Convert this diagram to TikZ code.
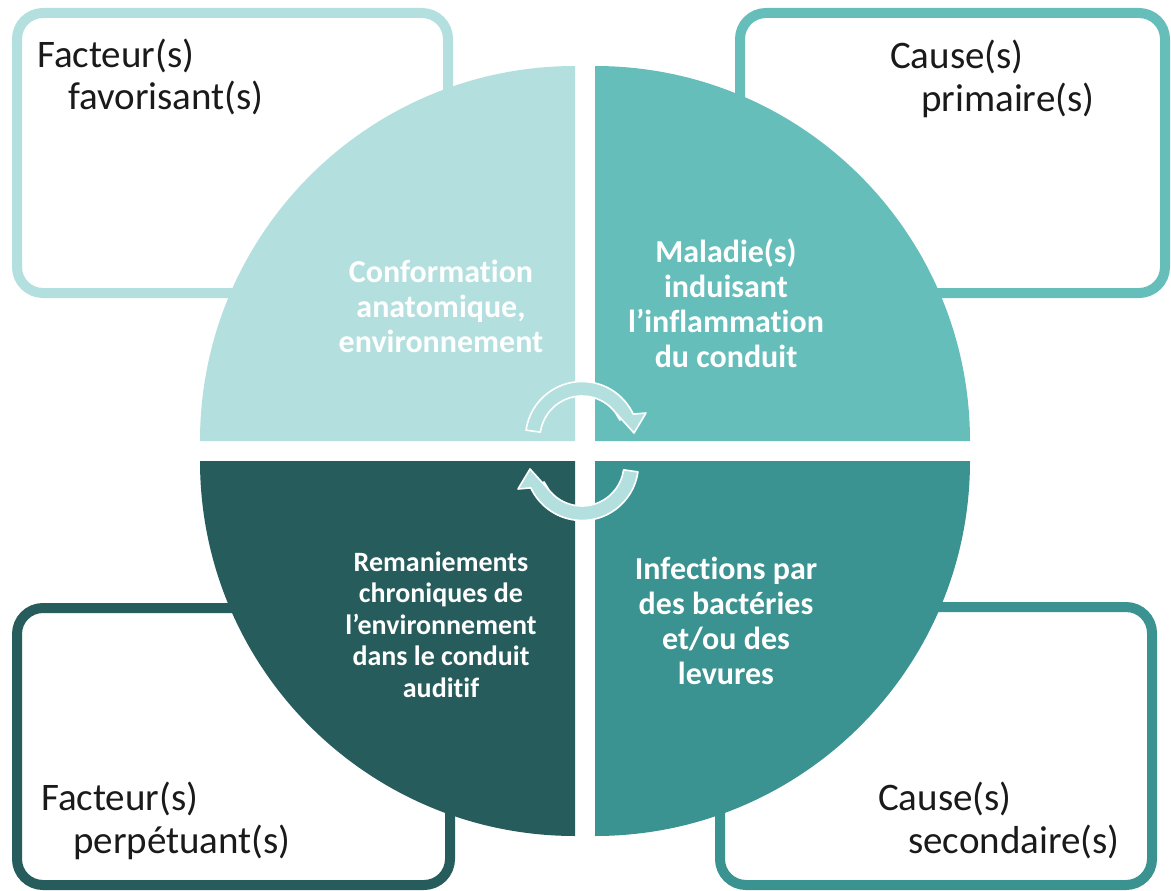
\documentclass[tikz,border=0pt]{standalone}
\usepackage{fontspec}
\setmainfont[Ligatures=NoCommon]{Carlito}
\usetikzlibrary{calc}
\definecolor{cA}{HTML}{B3E0DE}
\definecolor{cB}{HTML}{66BEBB}
\definecolor{cC}{HTML}{3A9390}
\definecolor{cD}{HTML}{265C5B}
\definecolor{ink}{HTML}{1A1A1A}
\begin{document}
\begin{tikzpicture}[x=1pt,y=-1pt,
  box/.style={rectangle, line width=10pt, rounded corners=26pt, fill=white, inner sep=0pt},
  lbl/.style={font=\fontsize{39}{43}\selectfont, text=ink, align=left, inner sep=0pt, anchor=base west},
  inn/.style={font=\bfseries\fontsize{32}{35}\selectfont, text=white, align=center, inner sep=0pt, anchor=base},
  innsmall/.style={inn, font=\bfseries\fontsize{28}{31.5}\selectfont},
  cyc/.style={fill=cA, draw=white, line width=1.6pt, line join=round},
  cycarrow/.pic={
    \path[cyc] ($(582,438)+(188:56.5)$) arc[start angle=188,end angle=335,radius=56.5]
      -- (646,413) -- (634,433) -- (615,412)
      -- ($(582,438)+(335:42)$) arc[start angle=335,end angle=188,radius=42] -- cycle;
  }]
\useasboundingbox[fill=white] (0,0) rectangle (1171,891);

% corner boxes
\node[box, draw=cA, minimum width=431pt, minimum height=280pt] (boxTL) at (232.5,153) {};
\node[box, draw=cB, minimum width=425pt, minimum height=280pt] (boxTR) at (952.5,153) {};
\node[box, draw=cD, minimum width=433pt, minimum height=277pt] (boxBL) at (233.5,746.5) {};
\node[box, draw=cC, minimum width=432pt, minimum height=278pt] (boxBR) at (936,746) {};

% quadrants
\fill[cA] (575,441) -- (200,441) arc[start angle=180,end angle=270,radius=375] -- cycle;
\fill[cB] (595,441) -- (595,66) arc[start angle=270,end angle=360,radius=375] -- cycle;
\fill[cC] (595,461) -- (970,461) arc[start angle=0,end angle=90,radius=375] -- cycle;
\fill[cD] (575,461) -- (575,836) arc[start angle=90,end angle=180,radius=375] -- cycle;

% cycle arrows
\pic (arrTop) at (0,0) {cycarrow};
\pic[rotate=180] (arrBot) at (1164,902) {cycarrow};

% box labels (anchor = baseline of last line)
\node[lbl] (tTL) at (37,110) {Facteur(s)\\\hspace*{31pt}favorisant(s)};
\node[lbl] (tTR) at (890,111) {Cause(s)\\\hspace*{31pt}primaire(s)};
\node[lbl] (tBL) at (41,853) {Facteur(s)\\\hspace*{32pt}perpétuant(s)};
\node[lbl] (tBR) at (878,853) {Cause(s)\\\hspace*{30pt}secondaire(s)};

% quadrant texts (anchor = baseline of last line)
\node[inn] (qTL) at (441,352) {Conformation\\anatomique,\\environnement};
\node[inn] (qTR) at (726,367) {Maladie(s)\\induisant\\l’inflammation\\du conduit};
\node[inn] (qBR) at (726,684) {Infections par\\des bactéries\\et/ou des\\levures};
\node[innsmall] (qBL) at (441,697) {Remaniements\\chroniques de\\l’environnement\\dans le conduit\\auditif};
\end{tikzpicture}
\end{document}
